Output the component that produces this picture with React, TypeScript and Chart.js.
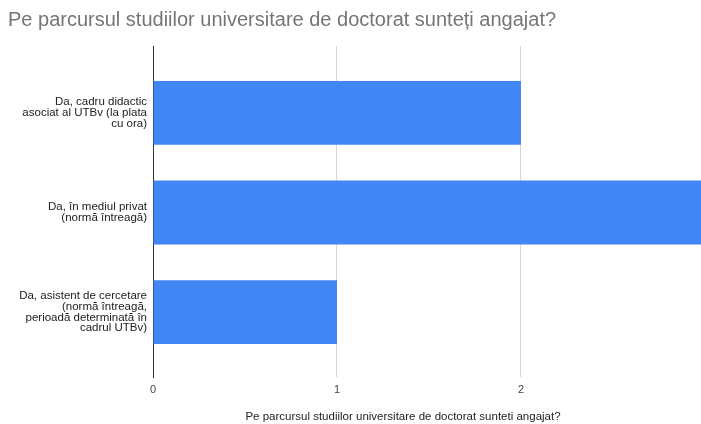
import React, { useEffect, useRef } from "react";
import { Chart, registerables } from "chart.js";

Chart.register(...registerables);

const chartTitle = "Pe parcursul studiilor universitare de doctorat sunteți angajat?";
const axisTitle = "Pe parcursul studiilor universitare de doctorat sunteti angajat?";
const categories: string[][] = [
  ["Da, cadru didactic", "asociat al UTBv (la plata", "cu ora)"],
  ["Da, în mediul privat", "(normă întreagă)"],
  ["Da, asistent de cercetare", "(normă întreagă,", "perioadă determinată în", "cadrul UTBv)"],
];
const values: number[] = [2, 3, 1];
const xMin = 0;
const xMax = 3;
const xStep = 1;

const FONT = '"Liberation Sans", Arial, Helvetica, sans-serif';

const axisTitlePlugin = {
  id: "bottomAxisTitle",
  afterDraw(chart: any) {
    const { ctx, chartArea } = chart;
    ctx.save();
    ctx.font = `11.5px ${FONT}`;
    ctx.fillStyle = "#222222";
    ctx.textAlign = "center";
    ctx.textBaseline = "middle";
    ctx.fillText(axisTitle, chartArea.left + 250, chart.height - 7);
    ctx.restore();
  },
};

export default function App() {
  const ref = useRef<HTMLCanvasElement | null>(null);

  useEffect(() => {
    if (!ref.current) return;
    const chart = new Chart(ref.current, {
      type: "bar",
      data: {
        datasets: [
          {
            label: chartTitle,
            data: values.map((v, i) => ({ x: v, y: i })),
            backgroundColor: "#4285F4",
            borderWidth: 0,
            barPercentage: 0.8,
            categoryPercentage: 0.8,
          },
        ],
      },
      plugins: [axisTitlePlugin],
      options: {
        indexAxis: "y",
        animation: false,
        responsive: false,
        parsing: false as any,
        layout: { padding: { left: 8, right: 0, top: 0, bottom: 0 } },
        plugins: {
          legend: { display: false },
          tooltip: { enabled: false },
          title: {
            display: true,
            text: chartTitle,
            align: "start",
            color: "#757575",
            font: { family: FONT, size: 20, weight: "normal", lineHeight: 1.2 },
            padding: { top: 8, bottom: 14 },
          },
        },
        scales: {
          y: {
            type: "linear",
            reverse: true,
            offset: false,
            min: -0.67,
            max: 2.65,
            afterFit: (s: any) => {
              s.width = 145;
            },
            grid: { display: false, offset: false, drawTicks: false },
            border: { display: true, color: "#333333", width: 1 },
            ticks: {
              stepSize: 1,
              includeBounds: false,
              autoSkip: false,
              padding: 6,
              color: "#222222",
              font: { family: FONT, size: 11.5, lineHeight: 0.92 },
              callback: (v: any) => (Number.isInteger(v) && categories[v] ? categories[v] : ""),
            },
          },
          x: {
            type: "linear",
            min: xMin,
            max: xMax,
            afterFit: (s: any) => {
              s.height = 47;
            },
            grid: { color: "#d6d6d6", drawTicks: false },
            border: { display: false },
            ticks: {
              stepSize: xStep,
              padding: 6,
              color: "#444444",
              font: { family: FONT, size: 11 },
            },
          },
        },
      },
    });
    return () => chart.destroy();
  }, []);

  return (
    <div
      style={{
        position: "fixed",
        left: 0,
        top: 0,
        width: 701,
        height: 424,
        overflow: "hidden",
        background: "#ffffff",
      }}
    >
      <canvas ref={ref} width={714} height={424} />
    </div>
  );
}
